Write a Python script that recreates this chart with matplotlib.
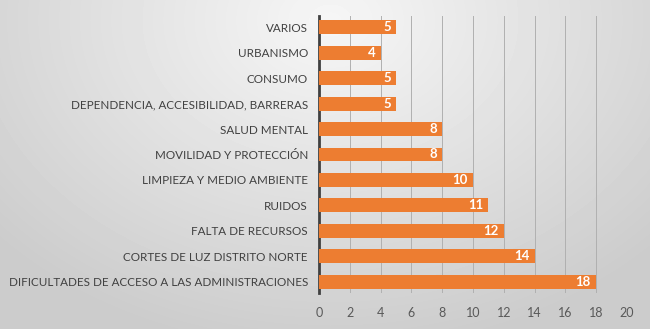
import numpy as np
import matplotlib.pyplot as plt

categories = [
    'VARIOS',
    'URBANISMO',
    'CONSUMO',
    'DEPENDENCIA, ACCESIBILIDAD, BARRERAS',
    'SALUD MENTAL',
    'MOVILIDAD Y PROTECCIÓN',
    'LIMPIEZA Y MEDIO AMBIENTE',
    'RUIDOS',
    'FALTA DE RECURSOS',
    'CORTES DE LUZ DISTRITO NORTE',
    'DIFICULTADES DE ACCESO A LAS ADMINISTRACIONES',
]
values = [5, 4, 5, 5, 8, 8, 10, 11, 12, 14, 18]
xticks = [0, 2, 4, 6, 8, 10, 12, 14, 16, 18, 20]

plt.rcParams['font.family'] = ['Lato', 'DejaVu Sans']

fig = plt.figure(figsize=(6.5, 3.29), dpi=100)

# soft radial grey background
bg = fig.add_axes([0, 0, 1, 1], zorder=-10)
yy, xx = np.mgrid[0:329, 0:650]
d = np.sqrt(((xx - 330) / 480.0) ** 2 + ((yy - 20) / 360.0) ** 2)
shade = np.clip(0.965 - 0.18 * d, 0.8, 0.97)
bg.imshow(shade, cmap='gray', vmin=0, vmax=1, aspect='auto', extent=[0, 1, 0, 1])
bg.axis('off')

ax = fig.add_axes([319 / 650, 1 - 293 / 329, (627 - 319) / 650, (293 - 16) / 329])
ax.patch.set_alpha(0)

pos = np.arange(len(categories))
ax.barh(pos, values, height=0.55, color='#ED7D31', zorder=3)
for y, v in zip(pos, values):
    ax.text(v - 0.35, y, str(v), ha='right', va='center', color='white',
            fontsize=9.5, fontweight='bold', zorder=4)

ax.set_xlim(0, 20)
ax.set_ylim(10.45, -0.45)
ax.set_xticks(xticks)
ax.set_yticks(pos)
ax.set_yticklabels(categories, fontsize=8.4, color='#404040')
ax.tick_params(axis='x', length=0, labelsize=9, labelcolor='#595959', pad=10)
ax.tick_params(axis='y', length=0, pad=8)
ax.grid(axis='x', color='#b0b0b0', linewidth=0.7, zorder=0)
for side in ['top', 'right', 'bottom']:
    ax.spines[side].set_visible(False)
ax.spines['left'].set_color('#404040')
ax.spines['left'].set_linewidth(2)

fig.savefig('out.png', dpi=100)
